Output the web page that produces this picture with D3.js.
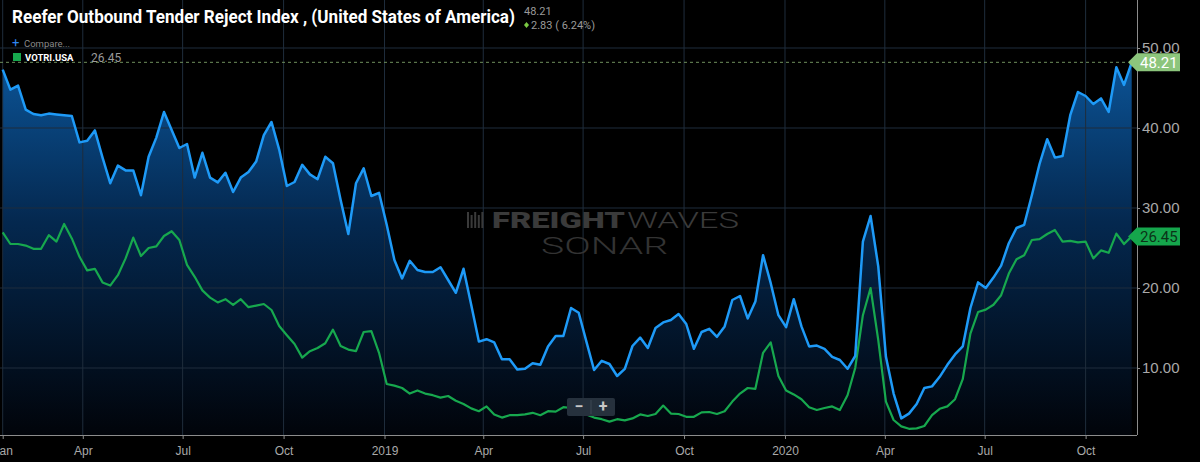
<!DOCTYPE html>
<html lang="en">
<head>
<meta charset="utf-8">
<title>Reefer Outbound Tender Reject Index</title>
<script src="https://cdn.jsdelivr.net/npm/d3@7"></script>
<style>
body { margin: 0; background-color: #000; }
svg { display: block; font-family: Roboto, "Noto Sans", sans-serif; }
.axis text { fill: #a9a9a9; }
.axis path, .axis line { stroke: #8c8c8c; }
</style>
</head>
<body>
<svg id="chart" width="1200" height="462"></svg>
<script>
// weekly readings, first week starting mid Jan 2018
var startDate = new Date(2018, 0, 18);

// Reefer outbound tender reject index (blue)
var reeferValues = [
  47.3, 44.8, 45.3, 42.3, 41.75, 41.6, 41.8, 41.7, 41.6, 41.5,
  38.2, 38.4, 39.7, 36.3, 33.1, 35.3, 34.7, 34.7, 31.6, 36.4,
  38.8, 42.0, 39.75, 37.5, 38.0, 33.8, 36.9, 33.8, 33.2, 34.4,
  32.0, 33.8, 34.5, 35.8, 39.1, 40.75, 37.3, 32.75, 33.25, 35.4,
  34.2, 33.6, 36.4, 35.6, 31.0, 26.75, 33.1, 34.96, 31.5, 31.9,
  27.9, 23.5, 21.2, 23.4, 22.25, 22.0, 22.0, 22.6, 21.0, 19.4,
  22.4, 17.9, 13.3, 13.6, 13.2, 11.1, 11.1, 9.8, 9.9, 10.6,
  10.4, 12.7, 14.0, 14.0, 17.5, 16.9, 13.3, 9.75, 10.9, 10.5,
  9.0, 9.9, 12.75, 13.8, 12.5, 15.0, 15.7, 16.0, 16.75, 15.5,
  12.4, 14.5, 14.9, 13.9, 15.2, 18.5, 19.0, 16.2, 18.3, 24.1,
  20.6, 16.6, 15.1, 18.6, 15.2, 12.7, 12.8, 12.4, 11.4, 11.0,
  9.9, 11.5, 25.8, 29.0, 22.7, 11.4, 6.8, 3.7, 4.3, 5.5,
  7.5, 7.7, 8.9, 10.4, 11.7, 12.7, 17.5, 20.7, 20.0, 21.3,
  22.8, 25.6, 27.5, 27.9, 31.6, 35.5, 38.6, 36.3, 36.5, 41.6,
  44.5, 44.0, 43.0, 43.7, 42.0, 47.6, 45.38, 48.21
];

// VOTRI.USA (green)
var votriValues = [
  26.96, 25.5, 25.5, 25.3, 24.9, 24.9, 26.6, 25.8, 28.0, 26.2,
  23.9, 22.2, 22.4, 20.7, 20.3, 21.6, 23.7, 26.3, 24.0, 25.0,
  25.2, 26.5, 27.1, 26.0, 22.9, 21.4, 19.7, 18.8, 18.2, 18.6,
  17.9, 18.6, 17.6, 17.8, 18.0, 17.25, 15.25, 14.1, 13.0, 11.3,
  12.1, 12.5, 13.1, 14.8, 12.75, 12.3, 12.1, 14.5, 14.6, 11.9,
  8.0, 7.8, 7.5, 6.8, 7.2, 6.8, 6.6, 6.3, 6.5, 5.9,
  5.5, 4.95, 4.6, 5.2, 4.2, 3.8, 4.1, 4.1, 4.2, 4.4,
  4.1, 4.6, 4.55, 5.1, 5.0, 4.7, 4.2, 3.8, 3.6, 3.3,
  3.6, 3.45, 3.7, 4.2, 4.0, 4.25, 5.3, 4.3, 4.25, 3.9,
  3.9, 4.45, 4.5, 4.25, 4.6, 5.8, 6.8, 7.5, 7.4, 11.9,
  13.2, 9.0, 7.2, 6.7, 6.1, 5.1, 4.75, 5.0, 5.2, 4.75,
  6.6, 10.0, 16.6, 20.0, 13.5, 5.8, 3.5, 2.7, 2.4, 2.45,
  2.75, 4.1, 4.9, 5.2, 6.1, 8.6, 14.3, 17.0, 17.3, 17.9,
  19.1, 21.8, 23.6, 24.1, 26.0, 26.1, 26.75, 27.25, 25.8, 25.9,
  25.7, 25.8, 23.7, 24.7, 24.4, 26.8, 25.5, 26.45
];

var tickDates = [
  new Date(2018, 0, 18), new Date(2018, 3, 1), new Date(2018, 6, 1), new Date(2018, 9, 1),
  new Date(2019, 0, 1), new Date(2019, 3, 1), new Date(2019, 6, 1), new Date(2019, 9, 1),
  new Date(2020, 0, 1), new Date(2020, 3, 1), new Date(2020, 6, 1), new Date(2020, 9, 1)
];
var tickLabels = ["Jan", "Apr", "Jul", "Oct", "2019", "Apr", "Jul", "Oct", "2020", "Apr", "Jul", "Oct"];
var valueTicks = [10, 20, 30, 40, 50];

var titleText = "Reefer Outbound Tender Reject Index , (United States of America)";
var lastValue = "48.21";
var changeText = "2.83 ( 6.24%)";
var seriesName = "VOTRI.USA";
var seriesValue = "26.45";

var plotRight = 1137, plotBottom = 435;

var dates = reeferValues.map(function(d, i) { return d3.timeDay.offset(startDate, i * 7); });

var x = d3.scaleTime()
  .domain([dates[0], dates[dates.length - 1]])
  .range([2.7, 1131.7]);
var y = d3.scaleLinear().domain([0, 50]).range([448, 48]);

var svg = d3.select("#chart");

// gradient under the blue line
var defs = svg.append("defs");
var grad = defs.append("linearGradient")
  .attr("id", "areaFill")
  .attr("gradientUnits", "userSpaceOnUse")
  .attr("x1", 0).attr("x2", 0)
  .attr("y1", y(50)).attr("y2", plotBottom);
grad.append("stop").attr("offset", "0%").attr("stop-color", "#0c579c");
grad.append("stop").attr("offset", "45%").attr("stop-color", "#04284f");
grad.append("stop").attr("offset", "100%").attr("stop-color", "#01040a");

defs.append("clipPath").attr("id", "plotClip")
  .append("rect").attr("x", 0).attr("y", 0).attr("width", plotRight).attr("height", plotBottom);

var plot = svg.append("g").attr("clip-path", "url(#plotClip)");

// area first, grid drawn over it
plot.append("path")
  .datum(reeferValues)
  .attr("fill", "url(#areaFill)")
  .attr("d", d3.area()
    .x(function(d, i) { return x(dates[i]); })
    .y0(plotBottom)
    .y1(function(d) { return y(d); }));

// grid
plot.selectAll("line.vgrid")
  .data(tickDates)
  .enter()
  .append("line")
  .attr("class", "vgrid")
  .attr("x1", function(d) { return x(d); })
  .attr("x2", function(d) { return x(d); })
  .attr("y1", 0).attr("y2", plotBottom)
  .attr("stroke", "#1f2d3c")
  .attr("stroke-width", 1);

plot.selectAll("line.hgrid")
  .data(valueTicks)
  .enter()
  .append("line")
  .attr("class", "hgrid")
  .attr("x1", 0).attr("x2", plotRight)
  .attr("y1", function(d) { return y(d); })
  .attr("y2", function(d) { return y(d); })
  .attr("stroke", "#1f2d3c")
  .attr("stroke-width", 1);

// watermark
var wm = svg.append("g").attr("fill", "#3a3a3a");
for (var b = 0; b < 5; b++) {
  wm.append("rect").attr("x", 467 + b * 3.6).attr("y", 212 + (b % 2) * 3).attr("width", 2).attr("height", 16 - (b % 2) * 3);
}
wm.append("text").attr("x", 492).attr("y", 228)
  .attr("font-size", 22).attr("font-weight", 900)
  .attr("textLength", 133).attr("lengthAdjust", "spacingAndGlyphs")
  .text("FREIGHT");
wm.append("text").attr("x", 627).attr("y", 228)
  .attr("font-size", 22).attr("font-weight", 300)
  .attr("textLength", 112).attr("lengthAdjust", "spacingAndGlyphs")
  .text("WAVES");
wm.append("text").attr("x", 541).attr("y", 254)
  .attr("font-size", 23).attr("font-weight", 300).attr("fill", "#333")
  .attr("textLength", 127).attr("lengthAdjust", "spacingAndGlyphs")
  .text("SONAR");

// lines
var line = d3.line()
  .x(function(d, i) { return x(dates[i]); })
  .y(function(d) { return y(d); });

plot.append("path")
  .datum(votriValues)
  .attr("fill", "none")
  .attr("stroke", "#17a84e")
  .attr("stroke-width", 2.2)
  .attr("stroke-linejoin", "round")
  .attr("d", line);

plot.append("path")
  .datum(reeferValues)
  .attr("fill", "none")
  .attr("stroke", "#1e9af7")
  .attr("stroke-width", 2.5)
  .attr("stroke-linejoin", "round")
  .attr("d", line);

// last value dashed guide
svg.append("line")
  .attr("x1", 0).attr("x2", 1128)
  .attr("y1", y(+lastValue)).attr("y2", y(+lastValue))
  .attr("stroke", "#6f8f5c")
  .attr("stroke-dasharray", "3,3")
  .attr("stroke-width", 1);

// axes
var xAxis = svg.append("g")
  .attr("class", "axis")
  .attr("transform", "translate(0," + plotBottom + ")")
  .call(d3.axisBottom(x)
    .tickValues(tickDates)
    .tickFormat(function(d, i) { return tickLabels[i]; })
    .tickSize(4)
    .tickSizeOuter(0));
xAxis.select(".domain").attr("d", "M0,0.5H" + plotRight);
xAxis.selectAll("text").attr("font-size", 12).attr("dy", "1.05em");

var yAxis = svg.append("g")
  .attr("class", "axis")
  .attr("transform", "translate(" + plotRight + ",0)")
  .call(d3.axisRight(y)
    .tickValues(valueTicks)
    .tickFormat(d3.format(".2f"))
    .tickSize(3)
    .tickSizeOuter(0));
yAxis.select(".domain").attr("d", "M0.5,0V" + plotBottom);
yAxis.selectAll("text").attr("font-size", 15).attr("x", 5);

// value tags on the right
function tag(val, fill, textFill) {
  var cy = y(+val);
  var g = svg.append("g");
  g.append("path")
    .attr("d", "M1128," + cy + "L1137," + (cy - 9) + "H1180V" + (cy + 9) + "H1137Z")
    .attr("fill", fill);
  g.append("text")
    .attr("x", 1140).attr("y", cy).attr("dy", "0.36em")
    .attr("font-size", 15)
    .attr("fill", textFill)
    .text(val);
}
tag(lastValue, "#8cc57c", "#ffffff");
tag(seriesValue, "#15a64c", "#0b3318");

// header
svg.append("text")
  .attr("x", 12).attr("y", 23)
  .attr("font-size", 18).attr("font-weight", 700)
  .attr("fill", "#ffffff")
  .attr("textLength", 503).attr("lengthAdjust", "spacingAndGlyphs")
  .text(titleText);

svg.append("text")
  .attr("x", 524).attr("y", 15)
  .attr("font-size", 11).attr("fill", "#9a9a9a")
  .text(lastValue);
svg.append("path")
  .attr("d", "M526.5,22L529,25L526.5,28L524,25Z")
  .attr("fill", "#7ac943");
svg.append("text")
  .attr("x", 531).attr("y", 29)
  .attr("font-size", 11).attr("fill", "#9a9a9a")
  .text(changeText);

svg.append("text")
  .attr("x", 12).attr("y", 47)
  .attr("font-size", 13).attr("fill", "#2f86f0")
  .text("+");
svg.append("text")
  .attr("x", 24).attr("y", 47)
  .attr("font-size", 9.5).attr("fill", "#8a8a8a")
  .text("Compare...");

svg.append("rect")
  .attr("x", 13).attr("y", 53).attr("width", 8).attr("height", 8)
  .attr("fill", "#17a84e");
svg.append("text")
  .attr("x", 25).attr("y", 61)
  .attr("font-size", 9.5).attr("font-weight", 700).attr("fill", "#ffffff")
  .text(seriesName);
svg.append("text")
  .attr("x", 91).attr("y", 61.5)
  .attr("font-size", 12).attr("fill", "#9a9a9a")
  .text(seriesValue);

// zoom control
var zc = svg.append("g");
zc.append("rect")
  .attr("x", 567).attr("y", 398).attr("width", 48).attr("height", 18).attr("rx", 2)
  .attr("fill", "#26313d");
zc.append("line")
  .attr("x1", 591).attr("x2", 591).attr("y1", 400).attr("y2", 414)
  .attr("stroke", "#3d4855");
zc.append("text").attr("x", 579).attr("y", 411.5).attr("text-anchor", "middle")
  .attr("font-size", 16).attr("font-weight", 700).attr("fill", "#c8c8c8").text("\u2212");
zc.append("text").attr("x", 603).attr("y", 412).attr("text-anchor", "middle")
  .attr("font-size", 16).attr("font-weight", 700).attr("fill", "#c8c8c8").text("+");
</script>
</body>
</html>
